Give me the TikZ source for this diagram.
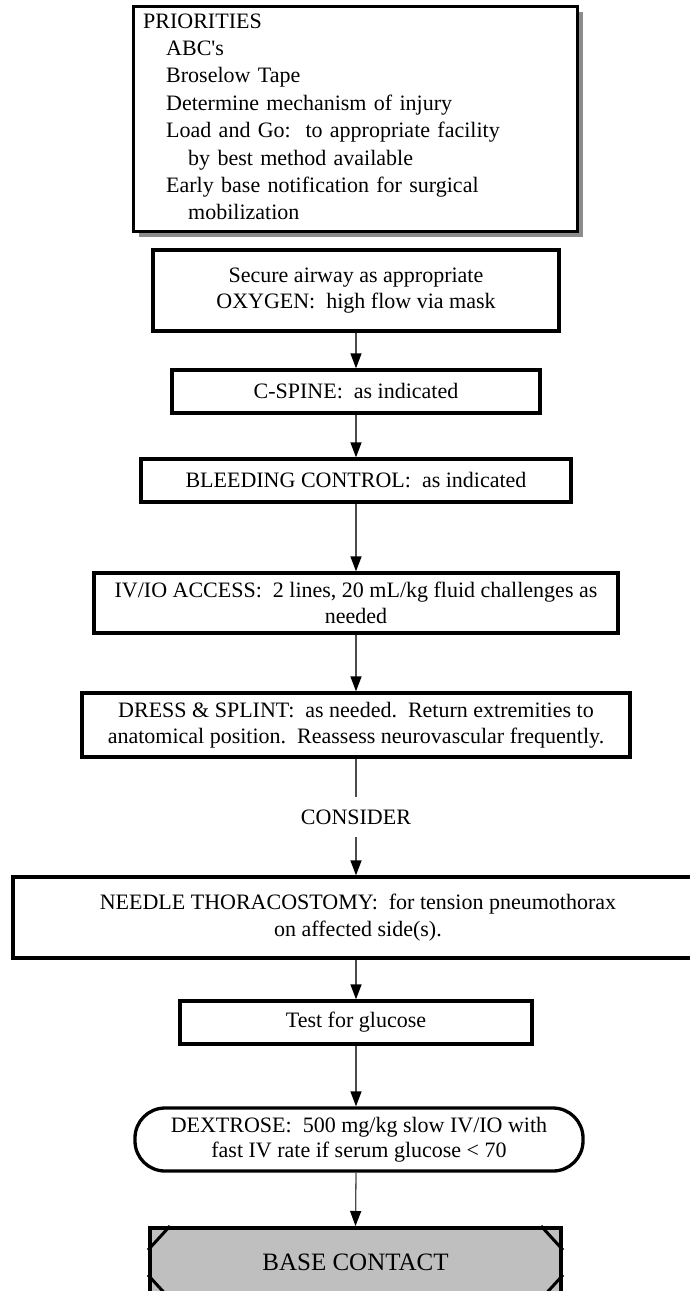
\documentclass[tikz,border=0pt]{standalone}
\usepackage{fontspec}
\setmainfont{Liberation Serif}
\usetikzlibrary{arrows.meta,calc}
\begin{document}
\begin{tikzpicture}[x=1pt,y=-1pt,
  stepbox/.style={draw, line width=3.3pt, fill=white, align=center, inner sep=0pt,
    font=\fontsize{22}{26.5}\selectfont},
  flow/.style={line width=1.3pt, draw=black!70, -{Triangle[length=15pt,width=11pt,fill=black,color=black]}},
  plainline/.style={line width=1.3pt, draw=black!70}
]
\useasboundingbox (0,0) rectangle (689,1291);
% priorities box with shadow
\fill[black!45] (139,12) rectangle (583,237);
\node[draw, line width=3.3pt, fill=white, minimum width=444pt, minimum height=225pt,
  anchor=north west, inner sep=0pt] (prio) at (132,5) {};
\node[anchor=base west, text width=420pt, align=left, inner sep=0pt,
  font=\fontsize{22}{27.4}\selectfont] (priotext) at (143,28)
  {PRIORITIES\\
   \hspace*{23pt}ABC\textquotesingle s\\
   \hspace*{23pt}Broselow Tape\\
   \hspace*{23pt}Determine mechanism of injury\\
   \hspace*{23pt}Load and Go:\ \ to appropriate facility\\
   \hspace*{45pt}by best method available\\
   \hspace*{23pt}Early base notification for surgical\\
   \hspace*{45pt}mobilization};

\node[stepbox, minimum width=406pt, minimum height=81pt] (b2) at (356,290.5)
  {Secure airway as appropriate\\OXYGEN:\ \ high flow via mask};
\node[stepbox, minimum width=368pt, minimum height=43pt] (b3) at (356,391.5)
  {C-SPINE:\ \ as indicated};
\node[stepbox, minimum width=430pt, minimum height=43pt] (b4) at (356,480.5)
  {BLEEDING CONTROL:\ \ as indicated};
\node[stepbox, minimum width=524pt, minimum height=60pt] (b5) at (356,603)
  {IV/IO ACCESS:\ \ 2 lines, 20 mL/kg fluid challenges as\\needed};
\node[stepbox, minimum width=548pt, minimum height=64pt] (b6) at (356,725)
  {DRESS \& SPLINT:\ \ as needed.\ \ Return extremities to\\anatomical position.\ \ Reassess neurovascular frequently.};
\node[inner sep=0pt, minimum height=40pt, font=\fontsize{22}{24}\selectfont] (consider) at (356,817) {CONSIDER};
\node[stepbox, minimum width=690pt, minimum height=81pt] (b7) at (358,917.5)
  {NEEDLE THORACOSTOMY:\ \ for tension pneumothorax\\on affected side(s).};
\node[stepbox, minimum width=352pt, minimum height=43pt] (b8) at (356,1022.5)
  {Test for glucose};
\node[stepbox, rounded corners=30pt, minimum width=448pt, minimum height=63pt,
  font=\fontsize{22}{25}\selectfont] (b9) at (359,1139.5)
  {DEXTROSE:\ \ 500 mg/kg slow IV/IO with\\fast IV rate if serum glucose < 70};
\node[draw, line width=4pt, fill=black!25, minimum width=411pt, minimum height=69pt, inner sep=0pt,
  font=\fontsize{25}{28}\selectfont] (b10) at (355.5,1262.5) {BASE CONTACT};
\draw[line width=3pt]
  ($(b10.north west)+(22,0)$) -- ($(b10.north west)+(0,24)$)
  ($(b10.south west)+(22,0)$) -- ($(b10.south west)+(0,-24)$)
  ($(b10.north east)+(-22,0)$) -- ($(b10.north east)+(0,24)$)
  ($(b10.south east)+(-22,0)$) -- ($(b10.south east)+(0,-24)$);

\draw[flow] (b2.south) -- (b3.north);
\draw[flow] (b3.south) -- (b4.north);
\draw[flow] (b4.south) -- (b5.north);
\draw[flow] (b5.south) -- (b6.north);
\draw[plainline] (b6.south) -- (consider.north);
\draw[flow] (consider.south) -- (consider.south |- b7.north);
\draw[flow] (consider.south |- b7.south) -- (b8.north);
\draw[flow] (b8.south) -- (b8.south |- b9.north);
\draw[flow] (b8.south |- b9.south) -- (b10.north);
\end{tikzpicture}
\end{document}
